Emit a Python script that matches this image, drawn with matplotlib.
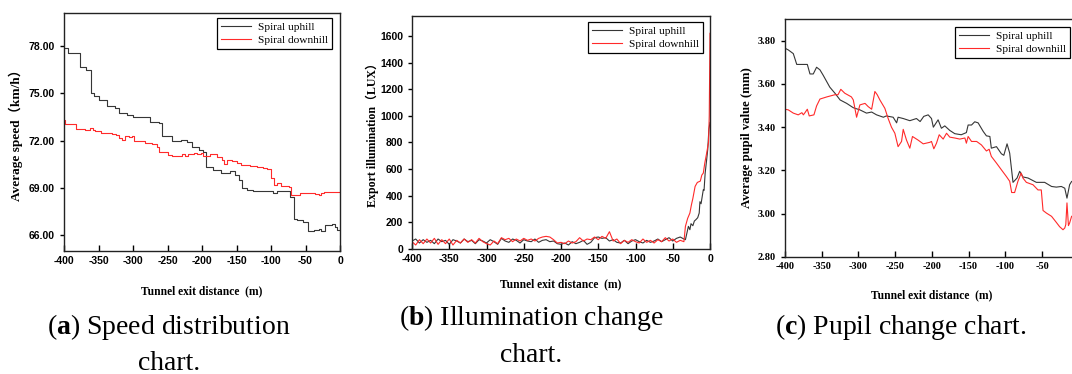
import matplotlib
matplotlib.use('Agg')
import matplotlib.pyplot as plt
import numpy as np

plt.rcParams['axes.unicode_minus'] = False
plt.rcParams['mathtext.fontset'] = 'custom'
plt.rcParams['mathtext.bf'] = 'Liberation Serif:bold'
plt.rcParams['mathtext.rm'] = 'Liberation Serif'

# (a) velocidade média - degraus (distância, km/h)
dist_a_up = [-400, -394, -377, -368, -361, -356, -350, -338, -326, -320, -309, -300,
             -275, -262, -258, -244, -230, -222, -215, -205, -198, -194, -184, -172,
             -160, -152, -147, -142, -135, -126, -97, -92, -73, -67, -63, -53, -47,
             -38, -31, -27, -22, -12, -7, -5, 0]
speed_up = [77.85, 77.55, 76.7, 76.5, 75.0, 74.85, 74.6, 74.2, 74.05, 73.75, 73.6, 73.5,
            73.2, 73.15, 72.3, 71.95, 72.05, 71.9, 71.6, 71.4, 71.3, 70.35, 70.15, 69.95,
            70.05, 69.8, 69.5, 69.0, 68.85, 68.8, 68.7, 68.8, 68.45, 67.05, 66.95, 66.85, 66.3,
            66.35, 66.4, 66.3, 66.65, 66.7, 66.55, 66.35, 66.35]

dist_a_down = [-400, -399, -382, -370, -362, -358, -355, -346, -330, -325, -320, -316,
               -311, -306, -302, -299, -292, -283, -273, -265, -262, -254, -249, -243,
               -229, -225, -220, -212, -207, -202, -198, -188, -178, -171, -168, -164,
               -157, -150, -143, -131, -121, -112, -106, -100, -95, -92, -86, -79, -74,
               -71, -58, -36, -30, -27, -23, 0]
speed_down = [73.3, 73.05, 72.75, 72.7, 72.8, 72.65, 72.6, 72.5, 72.45, 72.35, 72.2, 72.05,
              72.3, 72.25, 72.3, 71.95, 72.0, 71.85, 71.8, 71.6, 71.3, 71.3, 71.1, 71.0,
              71.15, 71.05, 71.15, 71.2, 71.15, 71.2, 71.05, 71.15, 70.95, 70.75, 70.55, 70.75,
              70.7, 70.6, 70.45, 70.4, 70.35, 70.25, 70.2, 69.6, 69.2, 69.3, 69.15, 69.1, 69.05,
              68.55, 68.65, 68.6, 68.55, 68.7, 68.75, 68.75]

# (b) iluminância (LUX)
dist_b_flat = np.arange(-400, -34, 5)
lux_down_flat = [55, 30, 70, 40, 75, 45, 80, 35, 70, 40,
                 75, 30, 65, 45, 75, 50, 70, 45, 80, 55,
                 40, 30, 60, 40, 85, 70, 80, 55, 75, 60,
                 80, 65, 75, 60, 80, 90, 95, 90, 70, 45,
                 50, 40, 60, 45, 55, 85, 60, 75, 70, 90,
                 70, 95, 80, 130, 60, 75, 40, 65, 50, 70,
                 55, 45, 75, 50, 65, 45, 70, 55, 85, 60,
                 75, 50, 65, 55]
lux_up_flat = [60, 75, 45, 70, 50, 65, 40, 75, 55, 65,
               35, 70, 60, 45, 75, 55, 65, 40, 70, 60,
               45, 70, 55, 35, 80, 60, 50, 75, 65, 45,
               70, 60, 55, 75, 50, 65, 70, 55, 60, 40,
               35, 45, 30, 55, 40, 50, 65, 35, 50, 85,
               90, 80, 85, 60, 70, 50, 45, 65, 40, 60,
               70, 55, 45, 65, 50, 60, 75, 55, 70, 85,
               60, 80, 90, 75]
dist_b_down_exit = [-33, -30, -27, -25, -23, -20, -17, -13, -11, -9, -7, -4.5, -2, -1, 0]
lux_down_exit = [170, 230, 270, 330, 380, 470, 500, 510, 555, 570, 645, 720, 800, 1000, 1620]
dist_b_up_exit = [-33, -31, -29, -27, -25.5, -23, -21, -19, -16.5, -14.5, -13.5, -12, -9, -8,
                  -6.5, -4.5, -3, -1.5, 0]
lux_up_exit = [70, 120, 170, 145, 190, 175, 210, 220, 235, 270, 355, 340, 445, 440,
               570, 670, 750, 900, 950]

# (c) pupila média (mm)
dist_c_up = [-400, -395.5, -388.7, -384, -375, -369.6, -366, -361.5, -357, -352.4, -348, -339,
             -332, -325, -316, -307, -298, -289, -282, -275.3, -266, -262, -252.7, -248, -246,
             -239, -230, -221, -216, -211, -205, -200.5, -198, -191.5, -187, -182.4, -175.6,
             -168.8, -160, -153, -150.6, -146, -141.6, -137, -130, -125.7, -121, -119, -112,
             -105.3, -102, -97.6, -94, -89.5, -84, -80.4, -76, -69, -64.5, -57.7, -46.4, -37,
             -30.5, -23.7, -19, -16, -12.4, -9.7]
pupil_up = [3.765, 3.757, 3.74, 3.69, 3.69, 3.69, 3.646, 3.646, 3.677, 3.665, 3.64, 3.585,
            3.557, 3.526, 3.51, 3.49, 3.48, 3.465, 3.47, 3.457, 3.446, 3.452, 3.446, 3.42, 3.446,
            3.44, 3.43, 3.44, 3.426, 3.45, 3.457, 3.44, 3.40, 3.434, 3.395, 3.406, 3.385,
            3.37, 3.365, 3.375, 3.41, 3.41, 3.425, 3.42, 3.38, 3.36, 3.357, 3.303, 3.31,
            3.277, 3.27, 3.323, 3.28, 3.145, 3.165, 3.196, 3.17, 3.165, 3.157, 3.145, 3.145, 3.126,
            3.123, 3.126, 3.118, 3.072, 3.134, 3.149]
dist_c_down = [-400, -395.5, -388.7, -382, -377, -375, -372.8, -369.6, -367, -360.6, -357, -352.4,
               -343, -332, -327.8, -324, -318.6, -309.6, -307, -302.5, -298, -291, -286.7, -282,
               -277.6, -274.4, -270.8, -264, -259.5, -255, -250.4, -246, -241.3, -239, -234.5,
               -230, -226.4, -218.6, -211.8, -202.8, -200.5, -197.3, -193.7, -190, -184.6, -180,
               -175.6, -168.8, -162, -155, -153, -150.6, -146, -139, -132.5, -125.7, -122, -119,
               -112, -105.3, -98.5, -94, -91.3, -87.3, -82.8, -78.3, -76, -71.3, -62.3, -55.5,
               -51, -48.6, -44, -37, -30.5, -26, -21.4, -19, -17.6, -16, -14, -12.4, -9.7]
pupil_down = [3.483, 3.48, 3.465, 3.457, 3.467, 3.457, 3.467, 3.483, 3.452, 3.457, 3.498, 3.53,
              3.54, 3.55, 3.55, 3.575, 3.557, 3.54, 3.526, 3.446, 3.503, 3.51, 3.495, 3.483,
              3.565, 3.55, 3.526, 3.487, 3.44, 3.40, 3.372, 3.31, 3.334, 3.39, 3.34,
              3.303, 3.357, 3.34, 3.323, 3.33, 3.334, 3.30, 3.326, 3.365, 3.345, 3.372,
              3.354, 3.35, 3.345, 3.35, 3.326, 3.357, 3.334, 3.334, 3.318, 3.29, 3.298, 3.265,
              3.234, 3.203, 3.172, 3.15, 3.098, 3.098, 3.15, 3.188, 3.165, 3.145, 3.134, 3.11,
              3.11, 3.015, 3.003, 2.988, 2.96, 2.94, 2.926, 2.934, 2.95, 3.05, 2.945, 2.957, 2.988]

series_labels = ['Spiral uphill', 'Spiral downhill']
captions = [('a', 'Speed distribution', 'chart.'),
            ('b', 'Illumination change', 'chart.'),
            ('c', 'Pupil change chart.', None)]

UP = '#363636'
DOWN = '#ff2a2a'
SERIF = 'Liberation Serif'
SERIF_CJK = ['Liberation Serif', 'Noto Sans CJK SC']
SANS = 'Liberation Sans'

fig = plt.figure(figsize=(10.72, 3.74), dpi=100)
W, H = 1072, 374


def add_ax(left, top, right, bottom):
    return fig.add_axes([left / W, 1 - bottom / H, (right - left) / W, (bottom - top) / H])


def style(ax, tick_font, xlab_y, ylab_x, ylabel, ylab_size):
    ax.tick_params(axis='x', direction='in', length=4, width=1)
    ax.tick_params(axis='y', direction='out', length=3, width=1)
    for lab in ax.get_xticklabels() + ax.get_yticklabels():
        lab.set_fontfamily(tick_font)
        lab.set_fontweight('bold')
        lab.set_fontsize(7.5)
    for sp in ax.spines.values():
        sp.set_linewidth(1.0)
        sp.set_color('#222222')
    ax.set_xlabel('Tunnel exit distance  (m)', fontfamily=SERIF, fontweight='bold', fontsize=8.3)
    ax.set_ylabel(ylabel, fontfamily=SERIF_CJK, fontweight='bold', fontsize=ylab_size)
    ax.xaxis.set_label_coords(0.5, xlab_y)
    ax.yaxis.set_label_coords(ylab_x, 0.5)


def legend(ax, anchor):
    leg = ax.legend(series_labels, loc='upper right', bbox_to_anchor=anchor,
                    bbox_transform=fig.transFigure, fancybox=False, frameon=True,
                    edgecolor='black', framealpha=1, handlelength=2.6, borderpad=0.35,
                    labelspacing=0.25, handletextpad=0.6, borderaxespad=0,
                    prop={'family': SERIF, 'size': 8.2})
    leg.get_frame().set_linewidth(0.9)


# (a)
ax1 = add_ax(64, 13, 340, 251)
ax1.plot(dist_a_up, speed_up, color=UP, lw=0.8, drawstyle='steps-post')
ax1.plot(dist_a_down, speed_down, color=DOWN, lw=0.8, drawstyle='steps-post')
ax1.set_xlim(-400, 0)
ax1.set_ylim(65, 80.1)
ax1.set_xticks(range(-400, 1, 50))
ax1.set_yticks([66, 69, 72, 75, 78])
ax1.set_yticklabels(['%.2f' % v for v in [66, 69, 72, 75, 78]])
style(ax1, SANS, -0.145, -0.15, 'Average speed（km/h）', 9.5)
legend(ax1, (332 / W, 1 - 18 / H))

# (b)
ax2 = add_ax(412, 16, 710, 249)
ax2.plot(np.concatenate([dist_b_flat, dist_b_up_exit]), lux_up_flat + lux_up_exit,
         color=UP, lw=0.8)
ax2.plot(np.concatenate([dist_b_flat, dist_b_down_exit]), lux_down_flat + lux_down_exit,
         color=DOWN, lw=0.8)
ax2.set_xlim(-400, 0)
ax2.set_ylim(0, 1750)
ax2.set_xticks(range(-400, 1, 50))
ax2.set_yticks(range(0, 1601, 200))
style(ax2, SANS, -0.125, -0.11, 'Export illumination（LUX）', 8.6)
legend(ax2, (703 / W, 1 - 22 / H))

# (c) - eixo continua além da borda direita
ax3 = add_ax(785, 19, 785 + 400 * 0.7343, 257)
ax3.plot(dist_c_up, pupil_up, color=UP, lw=0.8)
ax3.plot(dist_c_down, pupil_down, color=DOWN, lw=0.8)
ax3.set_xlim(-400, 0)
ax3.set_ylim(2.8, 3.9)
ax3.set_xticks(range(-400, -49, 50))
ax3.set_yticks([2.8, 3.0, 3.2, 3.4, 3.6, 3.8])
ax3.set_yticklabels(['%.2f' % v for v in [2.8, 3.0, 3.2, 3.4, 3.6, 3.8]])
style(ax3, SERIF, -0.135, -0.11, 'Average pupil value (mm)', 9.2)
legend(ax3, (1070 / W, 1 - 27 / H))

# legendas das figuras
cap_pos = [(169, 327, 363), (531, 318, 355), (901, 327, None)]
for (letter, line1, line2), (cx, y1, y2) in zip(captions, cap_pos):
    fig.text(cx / W, 1 - y1 / H, r'($\mathbf{%s}$) %s' % (letter, line1), ha='center',
             va='center', fontfamily=SERIF, fontsize=20)
    if line2:
        fig.text(cx / W, 1 - y2 / H, line2, ha='center', va='center',
                 fontfamily=SERIF, fontsize=20)

fig.savefig('out.png', dpi=100)
